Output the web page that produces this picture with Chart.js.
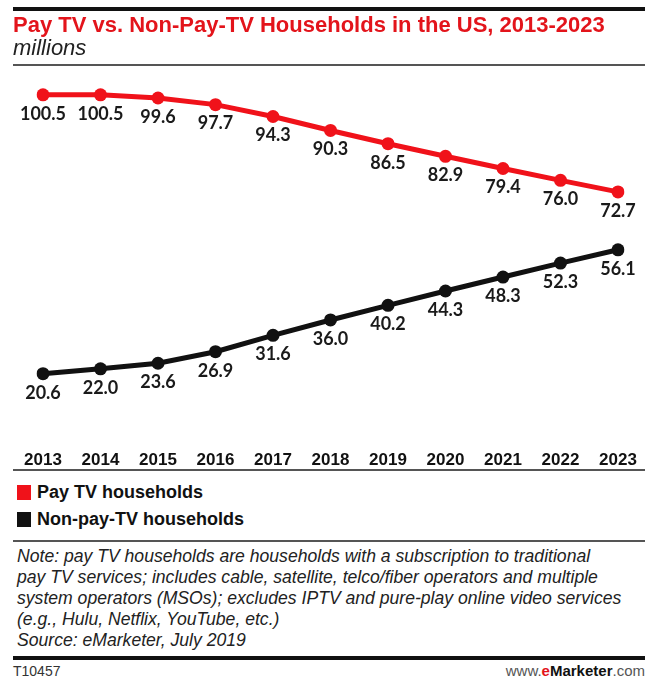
<!DOCTYPE html>
<html>
<head>
<meta charset="utf-8">
<script src="https://cdn.jsdelivr.net/npm/chart.js@4/dist/chart.umd.min.js"></script>
<style>
  html, body { margin:0; padding:0; background:#fff; }
  body { width:645px; height:681px; position:relative; overflow:hidden; font-family:"Liberation Sans", Arial, sans-serif; }
  .abs { position:absolute; }
  #topline { left:13px; top:7px; width:632px; height:4px; background:#111; }
  #title { left:13px; top:12px; color:#e3141b; font-weight:bold; font-size:22px; white-space:nowrap; }
  #sub { left:13px; top:35px; color:#222; font-style:italic; font-size:22px; }
  #subline { left:13px; top:64px; width:632px; height:2px; background:#555; }
  #axisline { left:13px; top:469px; width:632px; height:2px; background:#555; }
  #legend { left:17px; top:479px; }
  .li { display:flex; align-items:center; height:27px; font-weight:bold; font-size:18px; color:#111; }
  .sw { width:14px; height:15px; margin-right:6px; }
  #noteline { left:13px; top:540px; width:632px; height:2px; background:#555; }
  #note { left:17px; top:546px; font-style:italic; font-size:17.6px; line-height:21px; color:#222; white-space:nowrap; }
  #botline { left:13px; top:656px; width:632px; height:4px; background:#111; }
  #code { left:13px; top:663px; font-size:14px; color:#333; }
  #site { right:0px; top:662px; font-size:15px; color:#555; }
  #site b { color:#111; }
  #site .e { color:#e3141b; font-weight:bold; }
  canvas { position:absolute; left:0; top:0; }
</style>
</head>
<body>
<canvas id="c" width="645" height="476"></canvas>
<div class="abs" id="topline"></div>
<div class="abs" id="title">Pay TV vs. Non-Pay-TV Households in the US, 2013-2023</div>
<div class="abs" id="sub">millions</div>
<div class="abs" id="subline"></div>
<div class="abs" id="axisline"></div>
<div class="abs" id="legend"></div>
<div class="abs" id="noteline"></div>
<div class="abs" id="note">Note: pay TV households are households with a subscription to traditional<br>pay TV services; includes cable, satellite, telco/fiber operators and multiple<br>system operators (MSOs); excludes IPTV and pure-play online video services<br>(e.g., Hulu, Netflix, YouTube, etc.)<br>Source: eMarketer, July 2019</div>
<div class="abs" id="botline"></div>
<div class="abs" id="code">T10457</div>
<div class="abs" id="site">www.<span class="e">e</span><b>Marketer</b>.com</div>
<script>
const years = ["2013","2014","2015","2016","2017","2018","2019","2020","2021","2022","2023"];
const payTV = [100.5,100.5,99.6,97.7,94.3,90.3,86.5,82.9,79.4,76.0,72.7];
const nonPayTV = [20.6,22.0,23.6,26.9,31.6,36.0,40.2,44.3,48.3,52.3,56.1];
const seriesNames = ["Pay TV households","Non-pay-TV households"];
const seriesColors = ["#f0121a","#111111"];

const legend = document.getElementById('legend');
seriesNames.forEach((n,i)=>{
  const d = document.createElement('div'); d.className='li';
  d.innerHTML = '<span class="sw" style="background:'+seriesColors[i]+'"></span>'+n;
  legend.appendChild(d);
});

const valueLabels = {
  id:'valueLabels',
  afterDatasetsDraw(chart){
    const ctx = chart.ctx;
    ctx.save();
    ctx.font = 'bold 18px Lato, "Open Sans", sans-serif';
    ctx.fillStyle = '#1a1a1a';
    ctx.textAlign = 'center';
    ctx.textBaseline = 'middle';
    chart.data.datasets.forEach((ds,i)=>{
      chart.getDatasetMeta(i).data.forEach((pt,j)=>{
        ctx.fillText(ds.data[j].toFixed(1), pt.x, pt.y + 19);
      });
    });
    ctx.restore();
  }
};

new Chart(document.getElementById('c'), {
  type:'line',
  data:{
    labels: years,
    datasets:[
      {label:seriesNames[0], data:payTV, borderColor:seriesColors[0], backgroundColor:seriesColors[0], borderWidth:5, pointRadius:6.5, pointBackgroundColor:seriesColors[0], pointBorderWidth:0, tension:0},
      {label:seriesNames[1], data:nonPayTV, borderColor:seriesColors[1], backgroundColor:seriesColors[1], borderWidth:5, pointRadius:6.5, pointBackgroundColor:seriesColors[1], pointBorderWidth:0, tension:0}
    ]
  },
  options:{
    responsive:false,
    animation:false,
    layout:{ padding:{ left:43, right:27, top:61.7, bottom:0 } },
    plugins:{ legend:{display:false}, tooltip:{enabled:false} },
    scales:{
      x:{
        offset:false,
        grid:{display:false, drawTicks:false},
        border:{display:false},
        ticks:{ color:'#111', font:{family:'"Liberation Sans", Arial, sans-serif', size:17, weight:'bold'}, padding:5, maxRotation:0, autoSkip:false }
      },
      y:{ display:false, min:0, max:110 }
    }
  },
  plugins:[valueLabels]
});
</script>
</body>
</html>
